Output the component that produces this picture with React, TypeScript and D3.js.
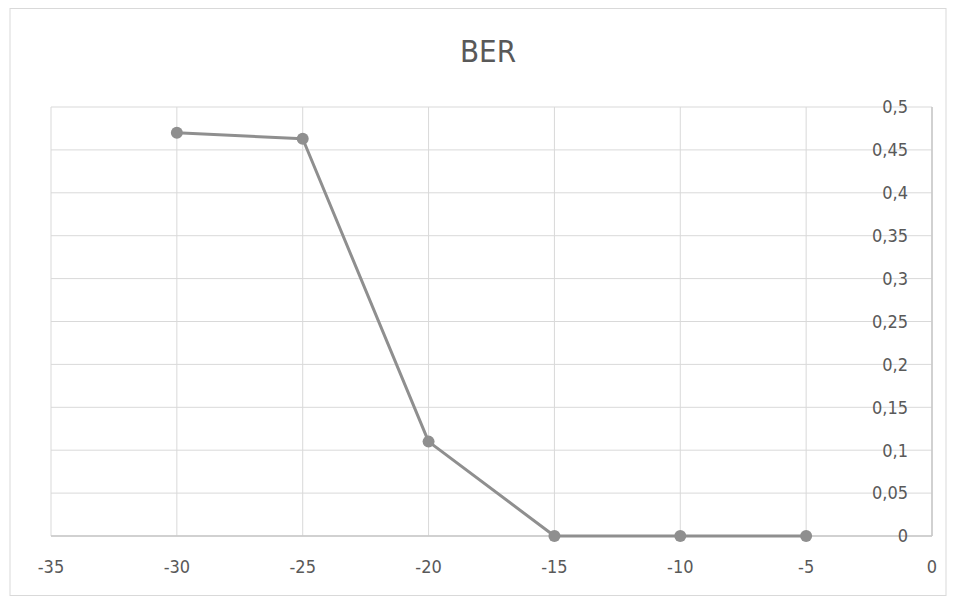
import React from "react";
import * as d3 from "d3";

const xValues = [-30, -25, -20, -15, -10, -5];
const berValues = [0.47, 0.463, 0.11, 0, 0, 0];
const xTicks = [-35, -30, -25, -20, -15, -10, -5, 0];
const yTicks = [0, 0.05, 0.1, 0.15, 0.2, 0.25, 0.3, 0.35, 0.4, 0.45, 0.5];
const title = "BER";

const W = 956;
const H = 599;
const FONT = "'Liberation Sans Narrow', 'DejaVu Sans Condensed', 'Open Sans', sans-serif";

export default function App() {
  const x = d3.scaleLinear().domain([-35, 0]).range([51, 932]);
  const y = d3.scaleLinear().domain([0, 0.5]).range([536, 107]);
  const line = d3
    .line<number>()
    .x((_, i) => x(xValues[i]))
    .y((d) => y(d));
  const fmt = (v: number) => String(+v.toFixed(2)).replace(".", ",");
  const grid = "#d9d9d9";
  const text = "#595959";
  const mark = "#8f8f8f";
  return (
    <svg
      width={W}
      height={H}
      style={{ position: "absolute", left: 0, top: 0, background: "#fff" }}
    >
      <rect x={10} y={8.5} width={936} height={587} fill="#fff" stroke="#d9d9d9" strokeWidth={1} />
      <text x={488} y={62} textAnchor="middle" fontFamily={FONT} fontSize={31} fill={text}>
        {title}
      </text>
      {xTicks.map((t) => (
        <line key={"vx" + t} x1={x(t)} x2={x(t)} y1={y(0.5)} y2={y(0)} stroke={grid} strokeWidth={1} />
      ))}
      {yTicks.map((t) => (
        <line key={"hy" + t} x1={x(-35)} x2={x(0)} y1={y(t)} y2={y(t)} stroke={grid} strokeWidth={1} />
      ))}
      <line x1={x(-35)} x2={x(0)} y1={y(0)} y2={y(0)} stroke="#c8c8c8" strokeWidth={1.5} />
      <line x1={x(0)} x2={x(0)} y1={y(0.5)} y2={y(0)} stroke="#c8c8c8" strokeWidth={1.5} />
      {yTicks.map((t) => (
        <text
          key={"ly" + t}
          x={908}
          y={y(t)}
          dy="0.35em"
          textAnchor="end"
          fontFamily={FONT}
          fontSize={18}
          fill={text}
        >
          {fmt(t)}
        </text>
      ))}
      {xTicks.map((t) => (
        <text
          key={"lx" + t}
          x={x(t)}
          y={573}
          textAnchor="middle"
          fontFamily={FONT}
          fontSize={18}
          fill={text}
        >
          {fmt(t)}
        </text>
      ))}
      <path d={line(berValues) || ""} fill="none" stroke={mark} strokeWidth={3} strokeLinejoin="round" />
      {berValues.map((v, i) => (
        <circle key={"c" + i} cx={x(xValues[i])} cy={y(v)} r={6} fill={mark} />
      ))}
    </svg>
  );
}
